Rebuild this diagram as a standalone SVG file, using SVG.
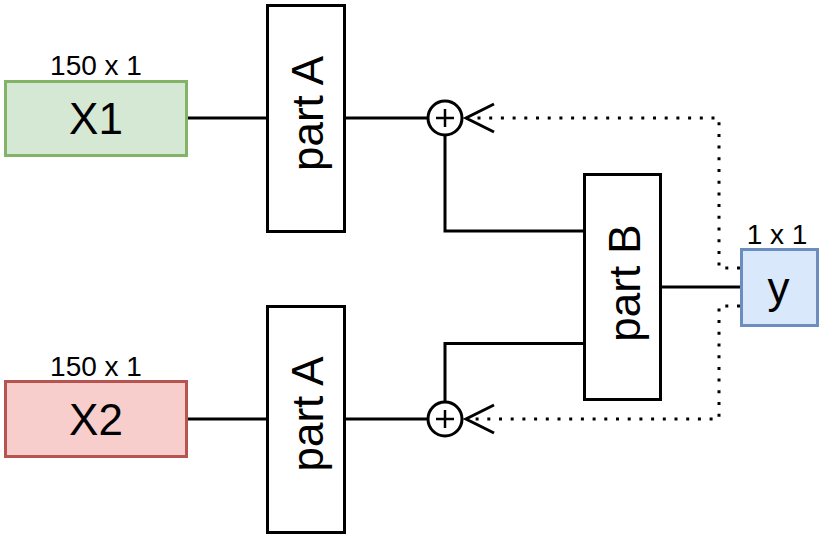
<svg xmlns="http://www.w3.org/2000/svg" width="831" height="538" viewBox="0 0 831 538">
<style>
.box{fill:#ffffff;stroke:#000000;stroke-width:3}
.ln{fill:none;stroke:#000000;stroke-width:3}
.dot{fill:none;stroke:#000000;stroke-width:3;stroke-dasharray:3 8.7}
.t{font-family:"Liberation Sans",Arial,sans-serif;fill:#000000;text-anchor:middle}
.big{font-size:44px}
.small{font-size:28px}
</style>
<rect width="831" height="538" fill="#ffffff"/>
<g id="connectors">
<path class="ln" d="M187,118 H267"/>
<path class="ln" d="M344,118 H428"/>
<path class="ln" d="M445,135 V231 H584"/>
<path class="ln" d="M187,419 H267"/>
<path class="ln" d="M344,419 H428"/>
<path class="ln" d="M445,402 V343.5 H584"/>
<path class="ln" d="M660,287 H741"/>
<path class="dot" d="M740,268 H719 V118 H470"/>
<path class="dot" d="M740,306 H719 V419 H470"/>
<path class="ln" d="M494,104 L466,118 L494,132"/>
<path class="ln" d="M494,405 L466,419 L494,433"/>
</g>
<g id="X1">
<rect x="5.5" y="81.5" width="181" height="74" fill="#d5e8d4" stroke="#82b366" stroke-width="3"/>
<text class="t big" x="96" y="134">X1</text>
<text class="t small" x="96" y="75">150 x 1</text>
</g>
<g id="X2">
<rect x="5.5" y="381.5" width="181" height="75" fill="#f8cecc" stroke="#b85450" stroke-width="3"/>
<text class="t big" x="96" y="435">X2</text>
<text class="t small" x="96" y="376">150 x 1</text>
</g>
<g id="partA1">
<rect class="box" x="267.5" y="5.5" width="77" height="226"/>
<text class="t big" transform="translate(323,113.5) rotate(-90)">part A</text>
</g>
<g id="partA2">
<rect class="box" x="267.5" y="306.5" width="77" height="226"/>
<text class="t big" transform="translate(323,414) rotate(-90)">part A</text>
</g>
<g id="partB">
<rect class="box" x="584.5" y="174.5" width="76" height="225"/>
<text class="t big" transform="translate(640,283) rotate(-90)">part B</text>
</g>
<g id="y">
<rect x="741.5" y="249.5" width="76" height="76" fill="#dae8fc" stroke="#6c8ebf" stroke-width="3"/>
<text class="t big" x="778.5" y="303">y</text>
<text class="t small" x="777" y="244">1 x 1</text>
</g>
<g id="sum1">
<circle cx="445" cy="118" r="17" fill="#ffffff" stroke="#000000" stroke-width="3"/>
<path d="M445,109 V127 M436,118 H454" stroke="#000000" stroke-width="2.5" fill="none"/>
</g>
<g id="sum2">
<circle cx="445" cy="419" r="17" fill="#ffffff" stroke="#000000" stroke-width="3"/>
<path d="M445,410 V428 M436,419 H454" stroke="#000000" stroke-width="2.5" fill="none"/>
</g>
</svg>
